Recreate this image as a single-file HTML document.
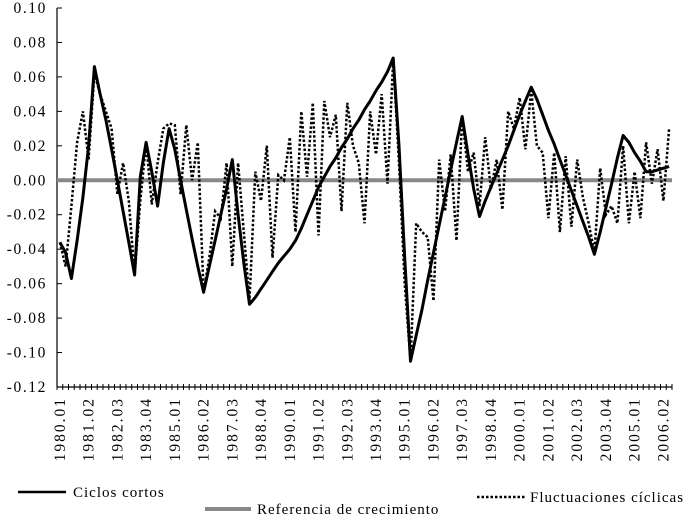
<!DOCTYPE html>
<html><head><meta charset="utf-8"><style>
html,body{margin:0;padding:0;background:#fff;}
svg{display:block;font-family:"Liberation Serif",serif;}
</style></head><body>
<svg id="chart" width="685" height="521" viewBox="0 0 685 521" xmlns="http://www.w3.org/2000/svg">
<g id="axes"></g>
<g id="series"></g>
<g id="legend">
  <line x1="18" y1="492" x2="66" y2="492" stroke="#000" stroke-width="2.5"/>
  <text x="73" y="497" font-size="15" letter-spacing="1">Ciclos cortos</text>
  <line x1="477" y1="497" x2="525" y2="497" stroke="#000" stroke-width="2.5" stroke-dasharray="2.5,2"/>
  <text x="530" y="502" font-size="15" letter-spacing="1">Fluctuaciones cíclicas</text>
  <line x1="205" y1="509" x2="251" y2="509" stroke="#888" stroke-width="4"/>
  <text x="257" y="514" font-size="15" letter-spacing="1">Referencia de crecimiento</text>
</g>
</svg>
<script>
const ciclosCortos = [-0.036,-0.042,-0.057,-0.035,-0.010,0.020,0.066,0.050,0.035,0.018,0.000,-0.018,-0.036,-0.055,0.002,0.022,0.005,-0.015,0.010,0.030,0.018,0.000,-0.017,-0.034,-0.050,-0.065,-0.050,-0.035,-0.020,-0.005,0.012,-0.020,-0.048,-0.072,-0.068,-0.063,-0.058,-0.053,-0.048,-0.044,-0.040,-0.035,-0.028,-0.020,-0.012,-0.004,0.002,0.008,0.013,0.019,0.024,0.030,0.035,0.041,0.046,0.052,0.057,0.063,0.071,0.020,-0.045,-0.105,-0.090,-0.075,-0.058,-0.042,-0.026,-0.010,0.006,0.022,0.037,0.015,-0.005,-0.021,-0.012,-0.004,0.004,0.012,0.020,0.029,0.038,0.046,0.054,0.047,0.038,0.029,0.021,0.012,0.003,-0.006,-0.015,-0.024,-0.033,-0.043,-0.030,-0.016,-0.002,0.013,0.026,0.022,0.016,0.011,0.005,0.005,0.006,0.007,0.008];
const fluctuaciones = [-0.036,-0.050,-0.015,0.022,0.040,0.012,0.062,0.050,0.040,0.030,-0.008,0.010,-0.012,-0.055,-0.012,0.022,-0.014,0.010,0.030,0.033,0.032,-0.008,0.032,0.000,0.022,-0.065,-0.045,-0.018,-0.022,0.010,-0.050,0.010,-0.030,-0.070,0.005,-0.012,0.020,-0.045,0.003,0.000,0.025,-0.030,0.040,0.002,0.045,-0.032,0.046,0.025,0.038,-0.018,0.045,0.020,0.010,-0.025,0.040,0.015,0.050,-0.002,0.070,0.010,-0.060,-0.105,-0.025,-0.030,-0.033,-0.070,0.012,-0.018,0.015,-0.035,0.037,0.005,0.016,-0.015,0.025,-0.005,0.012,-0.017,0.040,0.030,0.048,0.018,0.052,0.020,0.016,-0.022,0.016,-0.030,0.014,-0.027,0.012,-0.010,-0.025,-0.042,0.007,-0.020,-0.015,-0.025,0.020,-0.025,0.005,-0.022,0.022,-0.002,0.018,-0.012,0.030];
const yTicks = [0.10,0.08,0.06,0.04,0.02,0.00,-0.02,-0.04,-0.06,-0.08,-0.10,-0.12];
const xTickLabels = ["1980.01","1981.02","1982.03","1983.04","1985.01","1986.02","1987.03","1988.04","1990.01","1991.02","1992.03","1993.04","1995.01","1996.02","1997.03","1998.04","2000.01","2001.02","2002.03","2003.04","2005.01","2006.02"];
const NS="http://www.w3.org/2000/svg";
const X0=57, X1=672, Y_TOP=8, Y_BOT=387, VMAX=0.10, VMIN=-0.12;
const N=ciclosCortos.length;
const step=(X1-X0)/N;
function xScale(i){return X0+step*(i+0.5);}
function yScale(v){return Y_TOP+(VMAX-v)/(VMAX-VMIN)*(Y_BOT-Y_TOP);}
function mk(tag,attrs,parent){const e=document.createElementNS(NS,tag);for(const k in attrs)e.setAttribute(k,attrs[k]);parent.appendChild(e);return e;}
const axes=document.getElementById('axes'), series=document.getElementById('series');
let yl=mk('line',{x1:X0,y1:Y_TOP,x2:X0,y2:Y_BOT,stroke:'#000','stroke-width':1.2},axes);


yTicks.forEach(v=>{
  const y=yScale(v);
  const t=mk('line',{x1:X0,y1:y,x2:X0+5,y2:y,stroke:'#000','stroke-width':1},axes);
  
  
  const tx=mk('text',{x:47,y:y+5,'text-anchor':'end','font-size':15.5,'letter-spacing':1.6},axes);
  tx.textContent=v.toFixed(2);
  
  
});
let xl=mk('line',{x1:X0,y1:Y_BOT,x2:X1,y2:Y_BOT,stroke:'#000','stroke-width':1.2},axes);


for(let i=0;i<=N;i++){
  const x=X0+step*i;
  const t=mk('line',{x1:x,y1:Y_BOT-3,x2:x,y2:Y_BOT+3,stroke:'#000','stroke-width':1},axes);
  
  
}
xTickLabels.forEach((lab,k)=>{
  const x=xScale(k*5)+5, y=397;
  const tx=mk('text',{x:x,y:y,'text-anchor':'end','font-size':15.5,'letter-spacing':2,transform:`rotate(-90 ${x} ${y})`},axes);
  tx.textContent=lab;
  
  
});
const z=mk('line',{x1:X0,y1:yScale(0),x2:X1,y2:yScale(0),stroke:'#888','stroke-width':4},series);


function pts(arr){return arr.map((v,i)=>xScale(i).toFixed(1)+','+yScale(v).toFixed(1)).join(' ');}
const fl=mk('polyline',{points:pts(fluctuaciones),fill:'none',stroke:'#000','stroke-width':2.5,'stroke-dasharray':'2.5,2'},series);


const cl=mk('polyline',{points:pts(ciclosCortos),fill:'none',stroke:'#000','stroke-width':3,'stroke-linejoin':'round'},series);


</script>
</body></html>
